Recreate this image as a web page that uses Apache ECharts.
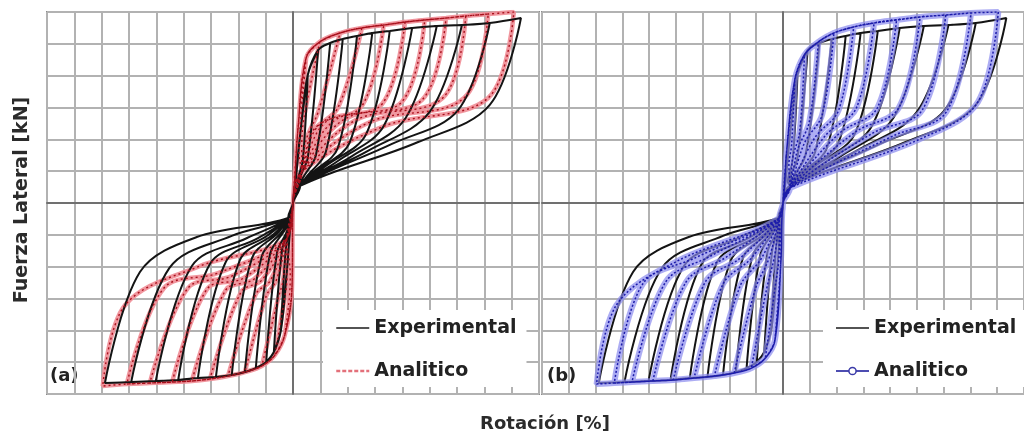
<!DOCTYPE html>
<html>
<head>
<meta charset="utf-8">
<script src="https://cdn.jsdelivr.net/npm/echarts@6/dist/echarts.min.js"></script>
<style>
  html, body { margin: 0; padding: 0; background: #fff; }
  #chart { width: 1024px; height: 437px; }
</style>
</head>
<body>
<div id="chart"></div>
<script>
// Hysteresis of lateral force vs. rotation: experimental test against two analytical models.
// Each cycle: loading peak, end of the steep unloading branch, return point on the pinched branch.
// Units: rotation in %, force in kN.

// ---- Experimental (black) ----
const expPosPeak   = [[0.27,80.4],[0.46,96.1],[0.68,100.5],[0.91,103.0],[1.17,104.9],[1.45,106.8],[1.77,108.1],[2.18,110.0],[2.63,111.2],[3.09,111.8],[3.60,113.1],[4.17,116.2]];
const expPosUnload = [[0.18,27.0],[0.27,28.3],[0.42,30.2],[0.60,32.0],[0.82,34.6],[1.04,38.3],[1.34,43.4],[1.66,48.4],[2.06,53.4],[2.50,57.2],[3.02,58.4],[3.60,61.6]];
const expPosReturn = [[0.09,13.2],[0.13,14.5],[0.18,15.7],[0.26,17.0],[0.35,18.8],[0.46,20.7],[0.60,23.2],[0.82,26.4],[1.08,29.5],[1.37,32.7],[1.81,37.1],[2.29,38.3]];
const expNegPeak   = [[-0.22,-79.8],[-0.35,-93.6],[-0.49,-99.9],[-0.68,-103.7],[-0.88,-106.2],[-1.12,-108.1],[-1.41,-109.3],[-1.74,-110.0],[-2.10,-111.2],[-2.51,-111.8],[-2.96,-112.5],[-3.44,-113.1]];
const expNegUnload = [[-0.13,-28.3],[-0.20,-29.5],[-0.29,-30.8],[-0.42,-32.0],[-0.57,-33.3],[-0.75,-34.6],[-0.97,-35.8],[-1.23,-37.1],[-1.52,-38.3],[-1.85,-39.6],[-2.26,-40.8],[-2.80,-43.4]];
const expNegReturn = [[-0.05,-12.0],[-0.07,-13.2],[-0.09,-14.5],[-0.13,-15.7],[-0.18,-17.0],[-0.26,-18.2],[-0.35,-19.5],[-0.48,-20.7],[-0.64,-22.0],[-0.84,-22.0],[-1.12,-20.7],[-1.76,-21.4]];
// loading start (+), pinch return (+), loading start (-), pinch return (-)
const expPinch     = [[0.15,49.0],[0.13,10.7],[-0.11,-42.1],[-0.09,-9.4]];

// ---- Analytical model (a), red ----
const redPosPeak   = [[0.24,91.1],[0.49,101.2],[0.86,106.8],[1.26,110.0],[1.66,111.8],[2.05,113.7],[2.41,115.0],[2.80,116.2],[3.16,117.5],[3.57,118.7],[4.04,120.0]];
const redPosUnload = [[0.13,47.1],[0.20,53.4],[0.46,57.2],[0.82,59.7],[1.26,60.9],[1.63,62.2],[1.99,63.5],[2.36,64.7],[2.74,66.0],[3.13,66.0],[3.57,66.0]];
const redPosReturn = [[0.11,30.2],[0.16,34.6],[0.24,39.6],[0.35,44.6],[0.46,48.4],[0.60,50.9],[0.77,52.1],[0.95,52.8],[1.15,52.1],[1.41,50.9],[1.68,48.4]];
const redNegPeak   = [[-0.15,-82.9],[-0.33,-95.5],[-0.57,-102.4],[-0.88,-106.2],[-1.19,-108.7],[-1.52,-110.6],[-1.85,-111.8],[-2.21,-112.5],[-2.62,-113.1],[-3.04,-113.7],[-3.48,-115.0]];
const redNegUnload = [[-0.07,-60.9],[-0.16,-60.9],[-0.27,-59.7],[-0.49,-58.4],[-0.68,-57.2],[-0.95,-55.9],[-1.23,-54.7],[-1.57,-54.0],[-1.92,-53.4],[-2.36,-53.4],[-3.07,-64.1]];
const redNegReturn = [[-0.05,-45.2],[-0.11,-47.1],[-0.18,-48.4],[-0.31,-49.0],[-0.42,-49.0],[-0.57,-48.4],[-0.71,-47.7],[-0.90,-47.1],[-1.12,-45.9],[-1.37,-44.0],[-1.70,-39.6]];
const redPinch     = [[0.09,45.9],[0.16,19.5],[-0.02,-54.7],[-0.11,-22.0]];

// ---- Analytical model (b), blue ----
const bluePosPeak   = [[0.22,77.3],[0.40,93.0],[0.66,101.2],[0.95,106.8],[1.32,110.6],[1.70,113.1],[2.12,115.0],[2.56,116.9],[3.04,118.1],[3.51,119.4],[4.02,120.0]];
const bluePosUnload = [[0.16,36.4],[0.31,44.6],[0.49,50.9],[0.73,55.3],[1.04,58.4],[1.37,59.7],[1.76,59.7],[2.16,59.7],[2.60,58.4],[3.05,57.2],[3.64,63.5]];
const bluePosReturn = [[0.11,23.9],[0.18,28.3],[0.27,33.3],[0.40,37.7],[0.59,40.8],[0.80,42.7],[1.06,44.0],[1.35,44.6],[1.68,44.0],[2.05,42.1],[2.60,40.8]];
const blueNegPeak   = [[-0.15,-86.1],[-0.33,-97.4],[-0.59,-103.7],[-0.91,-106.8],[-1.28,-108.7],[-1.66,-110.0],[-2.05,-111.2],[-2.43,-111.8],[-2.82,-112.5],[-3.15,-113.1],[-3.48,-113.7]];
const blueNegUnload = [[-0.07,-57.8],[-0.16,-55.9],[-0.31,-54.7],[-0.51,-53.4],[-0.80,-52.1],[-1.12,-50.9],[-1.45,-49.6],[-1.81,-49.6],[-2.19,-49.6],[-2.62,-50.9],[-3.11,-64.1]];
const blueNegReturn = [[-0.04,-26.4],[-0.07,-29.5],[-0.15,-32.0],[-0.26,-34.6],[-0.40,-34.6],[-0.59,-34.6],[-0.80,-34.6],[-1.06,-34.0],[-1.35,-33.3],[-1.65,-34.6],[-2.01,-37.1]];
const bluePinch     = [[0.07,33.3],[0.13,9.4],[-0.04,-37.1],[-0.07,-9.4]];

// Axis ranges and grid spacing
const rotRange = [-4.5, 4.5], rotStep = 0.5;
const forceRange = [-120, 120], forceStep = 20;

// Chain the cycles into one continuous load path; the loading branch follows the earlier peaks (backbone).
function loadPath(posPeak, posUnload, posReturn, negPeak, negUnload, negReturn, pinch) {
  const path = [[0, 0]];
  for (let i = 0; i < posPeak.length; i++) {
    path.push(pinch[0]);
    for (let j = 0; j <= i; j++) path.push(posPeak[j]);
    path.push(posUnload[i], posReturn[i], pinch[1], [0, 0], pinch[2]);
    for (let j = 0; j <= i; j++) path.push(negPeak[j]);
    path.push(negUnload[i], negReturn[i], pinch[3], [0, 0]);
  }
  return path;
}

const expPath  = loadPath(expPosPeak, expPosUnload, expPosReturn, expNegPeak, expNegUnload, expNegReturn, expPinch);
const redPath  = loadPath(redPosPeak, redPosUnload, redPosReturn, redNegPeak, redNegUnload, redNegReturn, redPinch);
const bluePath = loadPath(bluePosPeak, bluePosUnload, bluePosReturn, blueNegPeak, blueNegUnload, blueNegReturn, bluePinch);

const FONT = '"DejaVu Sans", "Liberation Sans", sans-serif';
const gridLine = { show: true, lineStyle: { color: '#b2b2b2', width: 2 } };
const zeroLine = { show: true, onZero: true, lineStyle: { color: '#707070', width: 2 } };

function xAxis(gridIndex) {
  return { type: 'value', gridIndex, min: rotRange[0], max: rotRange[1], interval: rotStep,
    axisLine: zeroLine, axisTick: { show: false }, axisLabel: { show: false }, splitLine: gridLine };
}
function yAxis(gridIndex) {
  return { type: 'value', gridIndex, min: forceRange[0], max: forceRange[1], interval: forceStep,
    axisLine: zeroLine, axisTick: { show: false }, axisLabel: { show: false }, splitLine: gridLine };
}
function curve(name, axis, data, color, width, type, opacity) {
  return { type: 'line', name, xAxisIndex: axis, yAxisIndex: axis, data, smooth: 0.35,
    symbol: 'none', silent: true, itemStyle: { color },
    lineStyle: { color, width, type: type || 'solid', opacity: opacity == null ? 1 : opacity } };
}

const legendText = { fontFamily: FONT, fontWeight: 'bold', fontSize: 19, color: '#222', lineHeight: 20 };
const hiddenDot = { color: 'rgba(0,0,0,0)', borderWidth: 0 };

const chart = echarts.init(document.getElementById('chart'), null, { renderer: 'canvas' });
chart.setOption({
  animation: false,
  backgroundColor: '#fff',
  grid: [
    { left: 47, top: 12, width: 492, height: 382, show: true, borderColor: '#8c8c8c', borderWidth: 2 },
    { left: 542, top: 12, width: 492, height: 382, show: true, borderColor: '#8c8c8c', borderWidth: 2 }
  ],
  xAxis: [xAxis(0), xAxis(1)],
  yAxis: [yAxis(0), yAxis(1)],
  legend: [
    { orient: 'vertical', left: 323, top: 310, padding: [8, 10, 6, 12], itemGap: 23,
      itemWidth: 33, itemHeight: 9, backgroundColor: '#fff', selectedMode: false, textStyle: legendText,
      data: [
        { name: 'Experimental', itemStyle: hiddenDot, lineStyle: { color: '#1a1a1a', width: 1.5, type: 'solid' } },
        { name: 'Analitico', itemStyle: hiddenDot, lineStyle: { color: '#e0606c', width: 2.5, type: [4, 2] } }
      ] },
    { orient: 'vertical', left: 823, top: 310, padding: [8, 10, 6, 12], itemGap: 23,
      itemWidth: 33, itemHeight: 9, backgroundColor: '#fff', selectedMode: false, textStyle: legendText,
      data: [
        { name: 'Experimental', itemStyle: hiddenDot, lineStyle: { color: '#1a1a1a', width: 1.5, type: 'solid' } },
        { name: 'Analitico', itemStyle: { color: '#fff', borderColor: '#3a3aa8', borderWidth: 1.5 },
          lineStyle: { color: '#3a3aa8', width: 2, type: 'solid' } }
      ] }
  ],
  series: [
    curve('Analitico', 0, redPath, '#f08c95', 4.5, 'solid', 0.9),
    curve('Experimental', 0, expPath, '#141414', 2),
    curve('Analitico', 0, redPath, '#a8101c', 1.4, [2, 3]),
    curve('Experimental', 1, expPath, '#141414', 2),
    curve('Analitico', 1, bluePath, '#8a8aee', 6, 'solid', 0.7),
    curve('Analitico', 1, bluePath, '#1c1caa', 1.5, [2, 2])
  ],
  graphic: [
    { type: 'text', x: 22, y: 200, rotation: Math.PI / 2,
      style: { text: 'Fuerza Lateral [kN]', fontFamily: FONT, fontWeight: 'bold', fontSize: 19,
        fill: '#2b2b2b', align: 'center', verticalAlign: 'middle' } },
    { type: 'text', x: 545, y: 424,
      style: { text: 'Rotación [%]', fontFamily: FONT, fontWeight: 'bold', fontSize: 18,
        fill: '#2b2b2b', align: 'center', verticalAlign: 'middle' } },
    { type: 'text', x: 50, y: 376,
      style: { text: '(a)', fontFamily: FONT, fontWeight: 'bold', fontSize: 18,
        fill: '#222', align: 'left', verticalAlign: 'middle' } },
    { type: 'text', x: 547, y: 376,
      style: { text: '(b)', fontFamily: FONT, fontWeight: 'bold', fontSize: 18,
        fill: '#222', align: 'left', verticalAlign: 'middle' } }
  ]
});
</script>
</body>
</html>
